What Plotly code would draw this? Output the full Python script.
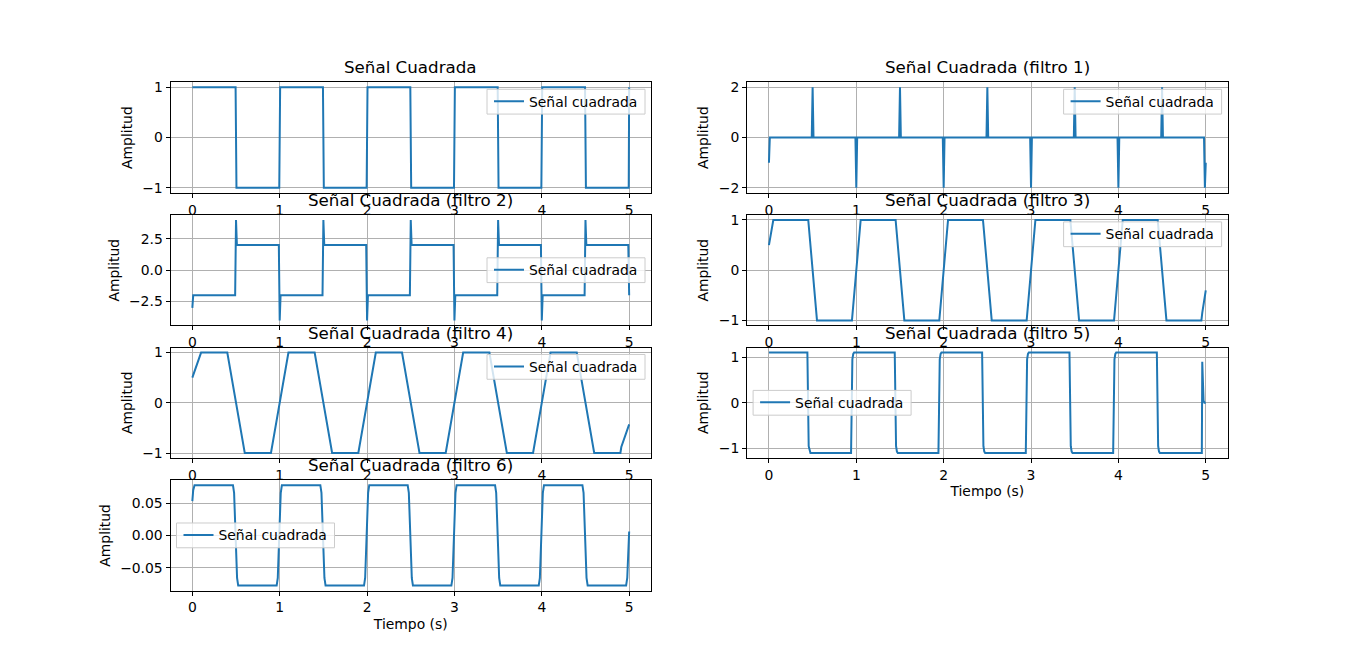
import plotly.graph_objects as go

# 原始方波
sq_t = [0, 0.495, 0.505, 0.995, 1.005, 1.495, 1.505, 1.995, 2.005, 2.495, 2.505,
        2.995, 3.005, 3.495, 3.505, 3.995, 4.005, 4.495, 4.505, 4.995, 5.0]
sq_y = [1, 1, -1, -1, 1, 1, -1, -1, 1, 1, -1, -1, 1, 1, -1, -1, 1, 1, -1, -1, 1]

# 滤波 1
f1_t = [0, 0.01, 0.49, 0.5, 0.51, 0.99, 1.0, 1.01, 1.49, 1.5, 1.51, 1.99, 2.0, 2.01,
        2.49, 2.5, 2.51, 2.99, 3.0, 3.01, 3.49, 3.5, 3.51, 3.99, 4.0, 4.01,
        4.49, 4.5, 4.51, 4.98, 4.99, 5.0]
f1_y = [-1, 0, 0, 2, 0, 0, -2, 0, 0, 2, 0, 0, -2, 0, 0, 2, 0, 0, -2, 0, 0, 2, 0,
        0, -2, 0, 0, 2, 0, 0, -2, -1]

# 滤波 2
f2_t = [0, 0.01, 0.49, 0.5, 0.51, 0.99, 1.0, 1.01, 1.49, 1.5, 1.51, 1.99, 2.0, 2.01,
        2.49, 2.5, 2.51, 2.99, 3.0, 3.01, 3.49, 3.5, 3.51, 3.99, 4.0, 4.01,
        4.49, 4.5, 4.51, 4.99, 5.0]
f2_y = [-3, -2, -2, 4, 2, 2, -4, -2, -2, 4, 2, 2, -4, -2, -2, 4, 2, 2, -4, -2,
        -2, 4, 2, 2, -4, -2, -2, 4, 2, 2, -2]

# 滤波 3
f3_t = [0, 0.05, 0.45, 0.55, 0.95, 1.05, 1.45, 1.55, 1.95, 2.05, 2.45, 2.55,
        2.95, 3.05, 3.45, 3.55, 3.95, 4.05, 4.45, 4.55, 4.95, 4.96, 5.0]
f3_y = [0.5, 1, 1, -1, -1, 1, 1, -1, -1, 1, 1, -1, -1, 1, 1, -1, -1, 1, 1, -1,
        -1, -0.85, -0.4]

# 滤波 4
f4_t = [0, 0.1, 0.4, 0.6, 0.9, 1.1, 1.4, 1.6, 1.9, 2.1, 2.4, 2.6, 2.9, 3.1,
        3.4, 3.6, 3.9, 4.1, 4.4, 4.6, 4.9, 4.91, 5.0]
f4_y = [0.5, 1, 1, -1, -1, 1, 1, -1, -1, 1, 1, -1, -1, 1, 1, -1, -1, 1, 1, -1,
        -1, -0.88, -0.43]

# 滤波 5
f5_t = [0,
        0.44, 0.455, 0.465, 0.475, 0.94, 0.955, 0.965, 0.975,
        1.44, 1.455, 1.465, 1.475, 1.94, 1.955, 1.965, 1.975,
        2.44, 2.455, 2.465, 2.475, 2.94, 2.955, 2.965, 2.975,
        3.44, 3.455, 3.465, 3.475, 3.94, 3.955, 3.965, 3.975,
        4.44, 4.455, 4.465, 4.475,
        4.955, 4.96, 4.975, 4.985, 5.0]
f5_y = [1.1,
        1.1, -0.95, -1.07, -1.1, -1.1, 0.95, 1.07, 1.1,
        1.1, -0.95, -1.07, -1.1, -1.1, 0.95, 1.07, 1.1,
        1.1, -0.95, -1.07, -1.1, -1.1, 0.95, 1.07, 1.1,
        1.1, -0.95, -1.07, -1.1, -1.1, 0.95, 1.07, 1.1,
        1.1, -0.95, -1.07, -1.1,
        -1.1, 0.9, 0.05, 0.0, 0.0]

# 滤波 6
f6_t = [0, 0.01, 0.025,
        0.465, 0.478, 0.495, 0.512, 0.525, 0.965, 0.978, 0.995, 1.012, 1.025,
        1.465, 1.478, 1.495, 1.512, 1.525, 1.965, 1.978, 1.995, 2.012, 2.025,
        2.465, 2.478, 2.495, 2.512, 2.525, 2.965, 2.978, 2.995, 3.012, 3.025,
        3.465, 3.478, 3.495, 3.512, 3.525, 3.965, 3.978, 3.995, 4.012, 4.025,
        4.465, 4.478, 4.495, 4.512, 4.525,
        4.965, 4.978, 4.99, 5.0]
f6_y = [0.053, 0.07, 0.0778,
        0.0778, 0.066, 0.0, -0.066, -0.0778, -0.0778, -0.066, 0.0, 0.066, 0.0778,
        0.0778, 0.066, 0.0, -0.066, -0.0778, -0.0778, -0.066, 0.0, 0.066, 0.0778,
        0.0778, 0.066, 0.0, -0.066, -0.0778, -0.0778, -0.066, 0.0, 0.066, 0.0778,
        0.0778, 0.066, 0.0, -0.066, -0.0778, -0.0778, -0.066, 0.0, 0.066, 0.0778,
        0.0778, 0.066, 0.0, -0.066, -0.0778,
        -0.0778, -0.066, -0.03, 0.006]

titles = ['Señal Cuadrada', 'Señal Cuadrada (filtro 1)', 'Señal Cuadrada (filtro 2)',
          'Señal Cuadrada (filtro 3)', 'Señal Cuadrada (filtro 4)', 'Señal Cuadrada (filtro 5)',
          'Señal Cuadrada (filtro 6)']
x_ticks = [0, 1, 2, 3, 4, 5]

W, H = 1364, 666
OFF = 8  # 页面 body 的默认边距


def px_x(p):
    return (p - OFF) / W


def px_y(p):
    return 1 - (p - OFF) / H


# 子图位置（像素，仿 matplotlib 默认 subplots）
cols = [[170.5, 651.0], [747.1, 1227.6]]
rows = [[80.0, 191.5], [213.8, 325.3], [347.6, 459.1], [481.4, 592.9]]

# 每个子图：数据, 行, 列, y范围, y刻度, 刻度文字, 图例位置, 是否有x轴标题
panels = [
    (sq_t, sq_y, 0, 0, [-1.1, 1.1], [-1, 0, 1], ['−1', '0', '1'], 'ur', False),
    (f1_t, f1_y, 0, 1, [-2.2, 2.2], [-2, 0, 2], ['−2', '0', '2'], 'ur', False),
    (f2_t, f2_y, 1, 0, [-4.4, 4.4], [-2.5, 0, 2.5], ['−2.5', '0.0', '2.5'], 'cr', False),
    (f3_t, f3_y, 1, 1, [-1.1, 1.1], [-1, 0, 1], ['−1', '0', '1'], 'ur', False),
    (f4_t, f4_y, 2, 0, [-1.1, 1.1], [-1, 0, 1], ['−1', '0', '1'], 'ur', False),
    (f5_t, f5_y, 2, 1, [-1.21, 1.21], [-1, 0, 1], ['−1', '0', '1'], 'cl', True),
    (f6_t, f6_y, 3, 0, [-0.0856, 0.0856], [-0.05, 0, 0.05], ['−0.05', '0.00', '0.05'], 'cl', True),
]

font = dict(family='DejaVu Sans', size=13.9, color='black')
LW, LH = 158, 25  # 图例框大小

fig = go.Figure()
layout = {}
annotations = []
shapes = []

for i, (t, y, r, c, yr, yt, ytt, loc, xlabel) in enumerate(panels):
    n = i + 1
    sfx = '' if n == 1 else str(n)
    leg = 'legend' + sfx
    fig.add_trace(go.Scatter(
        x=t, y=y, mode='lines', name='Señal cuadrada',
        line=dict(color='#1f77b4', width=2), showlegend=True,
        xaxis='x' + sfx, yaxis='y' + sfx, legend=leg
    ))
    (x0, x1), (y0, y1) = cols[c], rows[r]
    common = dict(showline=True, mirror=True, linecolor='black', linewidth=1,
                  ticks='outside', ticklen=4, tickcolor='black', tickwidth=1,
                  showgrid=True, gridcolor='#b0b0b0', gridwidth=1, zeroline=False,
                  tickfont=font)
    layout['xaxis' + sfx] = dict(domain=[px_x(x0), px_x(x1)], anchor='y' + sfx, range=[-0.25, 5.25],
                                 tickvals=x_ticks, ticktext=[str(v) for v in x_ticks],
                                 title=dict(text='Tiempo (s)' if xlabel else '', font=font, standoff=4),
                                 **common)
    layout['yaxis' + sfx] = dict(domain=[px_y(y1), px_y(y0)], anchor='x' + sfx, range=yr,
                                 tickvals=yt, ticktext=ytt,
                                 title=dict(text='Amplitud', font=font, standoff=6),
                                 **common)
    # 子图标题
    annotations.append(dict(text=titles[i], x=px_x((x0 + x1) / 2), y=px_y(y0),
                            xref='paper', yref='paper', xanchor='center', yanchor='bottom',
                            yshift=3, showarrow=False,
                            font=dict(family='DejaVu Sans', size=16.7, color='black')))
    # 图例框（像素）
    if loc == 'ur':
        bx, by = x1 - 6 - LW, y0 + 7
    elif loc == 'cr':
        bx, by = x1 - 6 - LW, (y0 + y1) / 2 - LH / 2
    else:
        bx, by = x0 + 6, (y0 + y1) / 2 - LH / 2
    shapes.append(dict(type='rect', xref='paper', yref='paper', layer='above',
                       x0=px_x(bx), x1=px_x(bx + LW), y0=px_y(by + LH), y1=px_y(by),
                       fillcolor='rgba(255,255,255,0.8)', line=dict(color='#cccccc', width=1)))
    layout[leg] = dict(bgcolor='rgba(0,0,0,0)', borderwidth=0, font=font, itemwidth=30,
                       visible=True,
                       x=px_x(bx + 2), y=px_y(by + LH / 2), xanchor='left', yanchor='middle')

fig.update_layout(
    width=W, height=H,
    autosize=False,
    showlegend=True,
    margin=dict(l=0, r=0, t=0, b=0),
    plot_bgcolor='white',
    paper_bgcolor='white',
    font=font,
    annotations=annotations,
    shapes=shapes,
    **layout
)

fig.write_html('out.html')
